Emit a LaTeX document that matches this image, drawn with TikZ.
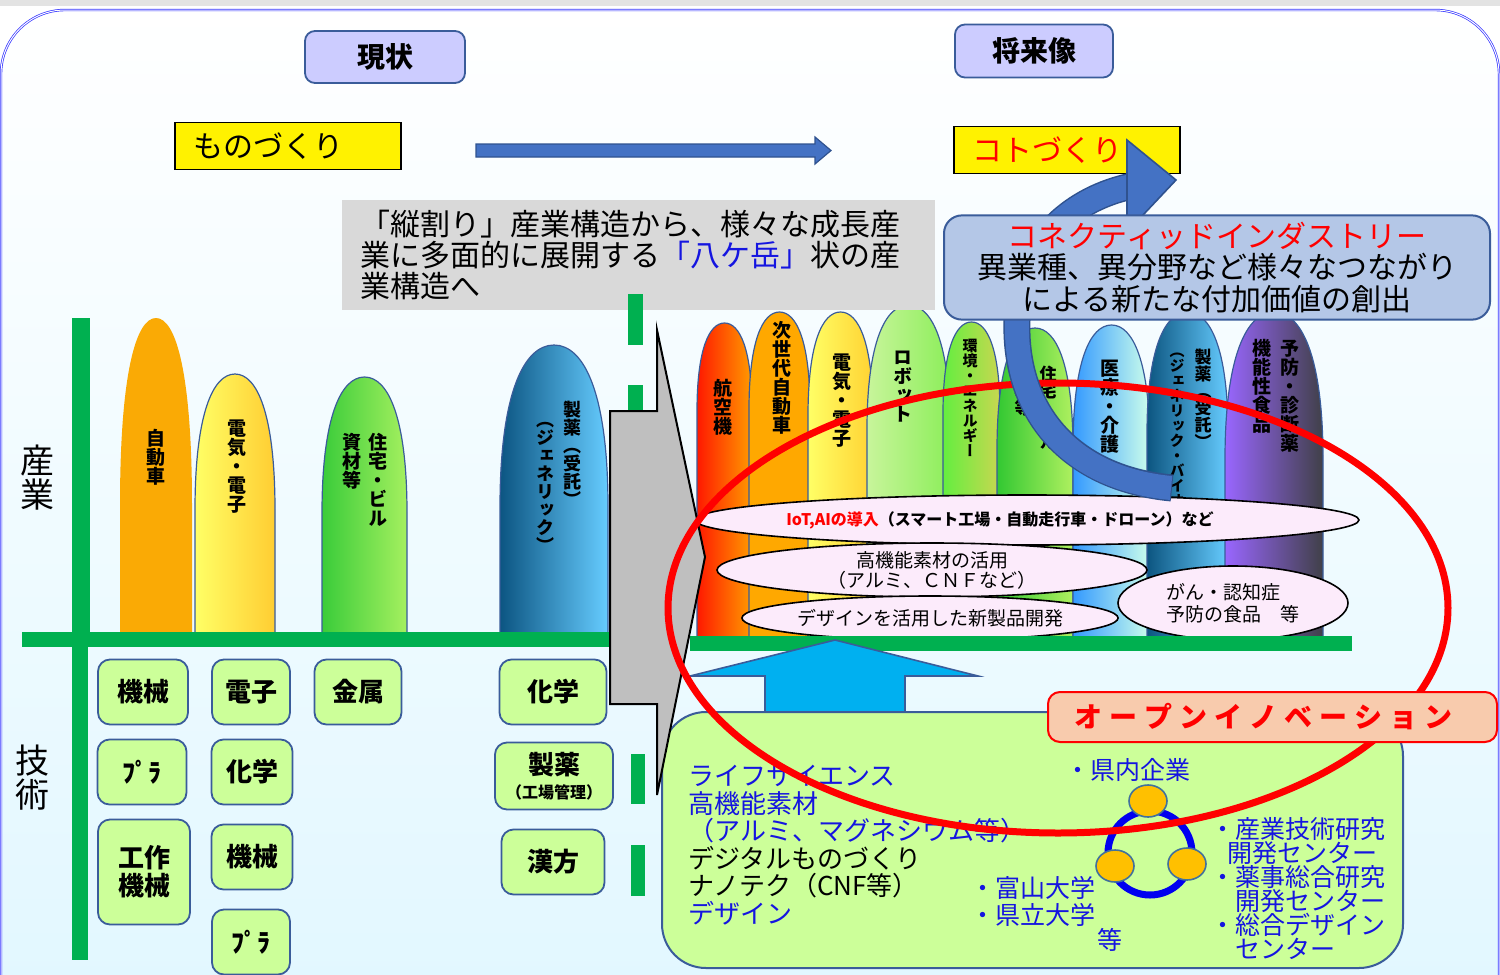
\documentclass[tikz,border=0pt]{standalone}
\usepackage{fontspec}
\setmainfont{Noto Sans CJK JP}
\newfontfamily\cjkv[RawFeature=+vert]{Noto Sans CJK JP}
\usetikzlibrary{shapes.geometric}
\definecolor{bordblue}{HTML}{3A5C9A}
\definecolor{techgreen}{HTML}{CCFF99}
\definecolor{hdrfill}{HTML}{CCCCFF}
\definecolor{arrowblue}{HTML}{4472C4}
\definecolor{arrowbord}{HTML}{2F528F}
\definecolor{grayfill}{HTML}{D9D9D9}
\definecolor{connfill}{HTML}{B4C7E7}
\definecolor{pinkfill}{HTML}{FCEBFB}
\definecolor{openfill}{HTML}{F8CBAD}
\definecolor{bgcyan}{HTML}{DDF6FF}
\definecolor{axisgreen}{HTML}{00B050}
\definecolor{chevgray}{HTML}{BFBFBF}
\definecolor{upblue}{HTML}{00B0F0}
\definecolor{textblue}{HTML}{1515E0}
\definecolor{ringblue}{HTML}{0000F0}
\definecolor{dotorange}{HTML}{FFC000}
\definecolor{dotbord}{HTML}{41719C}
\definecolor{frameblue}{HTML}{3333FF}
\definecolor{topgray}{HTML}{E3E3E3}
\definecolor{lavender}{HTML}{D8D8FF}
\definecolor{barbord}{HTML}{3A5C9A}
\definecolor{carorange}{HTML}{FAAA05}
\makeatletter
\newcommand\vtext[1]{\vbox{\offinterlineskip\@tfor\vt@c:=#1\do{\hbox to 1em{\hss\vt@c\hss\vrule height .88em depth .12em width 0pt}}}}
\newcommand\spreadtext[2]{\@tfor\sp@c:=#2\do{\sp@c\hspace{#1}}\unskip}
\makeatother
\newcommand\archshape[6]{%
  \pgfmathsetmacro\archM{(#2+#3)/2}%
  \pgfmathsetmacro\archW{#3-#2}%
  \pgfmathsetmacro\archH{#6*\archW}%
  \pgfmathsetmacro\archS{#4+\archH}%
  \pgfmathsetmacro\archC{#4+0.3*\archH}%
  \pgfmathsetmacro\archL{\archM-0.28*\archW}%
  \pgfmathsetmacro\archR{\archM+0.28*\archW}%
  \path[#1] (#2,#5) -- (#2,\archS) .. controls (#2,\archC) and (\archL,#4) .. (\archM,#4) .. controls (\archR,#4) and (#3,\archC) .. (#3,\archS) -- (#3,#5) -- cycle;
}
\begin{document}
\lineskiplimit=-20pt
\begin{tikzpicture}[x=0.5pt,y=-0.5pt,
  techbox/.style={draw=bordblue, line width=0.9pt, fill=techgreen, rounded corners=6pt, font=\bfseries\fontsize{13}{14}\selectfont, inner sep=0pt, align=center},
  hdrbox/.style={draw=bordblue, line width=0.9pt, fill=hdrfill, rounded corners=5pt, font=\bfseries\fontsize{14}{15}\selectfont, minimum width=80pt, minimum height=26pt},
  ybox/.style={draw=black, line width=0.7pt, fill=yellow, minimum width=113pt, minimum height=23.5pt, text width=95pt, align=left, inner xsep=9pt, font=\fontsize{15}{16}\selectfont},
  vlab/.style={inner sep=0pt, anchor=north, font=\cjkv\bfseries\fontsize{9.5}{10}\selectfont},
  vsmall/.style={inner sep=0pt, anchor=north, font=\cjkv\bfseries\fontsize{7.5}{8}\selectfont},
  vbig/.style={inner sep=0pt, anchor=north, font=\cjkv\fontsize{17}{17}\selectfont},
  pinkell/.style={ellipse, draw=black, line width=0.8pt, fill=pinkfill, inner sep=0pt, align=center},
  bartop/.style={draw=barbord, line width=0.6pt},
  btext/.style={inner sep=0pt, text=textblue, font=\fontsize{12.5}{12}\selectfont, align=left}
]
\useasboundingbox (0,0) rectangle (1500,975);
% background
\fill[white] (0,0) rectangle (1500,975);
\fill[topgray] (0,0) rectangle (1500,6);
\shade[top color=white, bottom color=bgcyan, rounded corners=32pt] (0,1150) -- (0,10) -- (1500,10) -- (1500,1150) -- cycle;
\fill[lavender] (0,80) rectangle (2,975);
\draw[frameblue, line width=0.35pt, double=white, double distance=0.5pt, rounded corners=32pt] (1,1150) -- (1,10) -- (1499,10) -- (1499,1150);

% headers
\node[hdrbox] (now) at (385,57) {現状};
\node[hdrbox, minimum width=79pt, minimum height=26.5pt] (future) at (1034,51) {将来像};
\node[ybox] (mono) at (288,146) {ものづくり};
\node[ybox, text=red] (koto) at (1067,150) {コトづくり};
\draw[arrowbord, fill=arrowblue, line width=0.6pt] (476,144) -- (815,144) -- (815,137) -- (831,150.5) -- (815,164) -- (815,157) -- (476,157) -- cycle;

% left bars
\archshape{fill=carorange}{120}{192}{318}{640}{2.6}
\archshape{bartop, left color=yellow!60, middle color=yellow!60, right color={rgb,255:red,255;green,205;blue,50}}{195}{275}{374}{640}{1.7}
\archshape{bartop, left color={rgb,255:red,58;green,204;blue,58}, middle color={rgb,255:red,58;green,204;blue,58}, right color={rgb,255:red,165;green,240;blue,95}}{322}{407}{377}{640}{1.6}
\archshape{bartop, left color={rgb,255:red,12;green,85;blue,130}, right color={rgb,255:red,102;green,204;blue,255}}{500}{608}{345}{640}{1.5}
\node[vlab] (l1) at (156,428) {\vtext{自動車}};
\node[vlab] (l2) at (237,418) {\vtext{電気・電子}};
\node[vlab] (l3a) at (378,432) {\vtext{住宅・ビル}};
\node[vlab] (l3b) at (352,432) {\vtext{資材等}};
\node[vlab, font=\cjkv\bfseries\fontsize{9}{9}\selectfont] (l4a) at (572,400) {\vtext{製薬（受託）}};
\node[vlab, font=\cjkv\bfseries\fontsize{9}{9}\selectfont] (l4b) at (545,410) {\vtext{（ジェネリック）}};

% right bars
\archshape{bartop, left color={rgb,255:red,255;green,25;blue,0}, right color={rgb,255:red,255;green,155;blue,0}}{697}{752}{323}{640}{1.6}
\archshape{bartop, left color={rgb,255:red,255;green,168;blue,0}, middle color={rgb,255:red,255;green,190;blue,20}, right color={rgb,255:red,255;green,168;blue,0}}{749}{810}{312}{640}{1.6}
\archshape{bartop, left color=yellow!60, middle color=yellow!60, right color={rgb,255:red,255;green,210;blue,50}}{808}{873}{312}{640}{1.6}
\archshape{bartop, left color={rgb,255:red,200;green,245;blue,155}, right color={rgb,255:red,140;green,238;blue,90}}{867}{950}{305}{640}{1.5}
\archshape{bartop, left color={rgb,255:red,100;green,238;blue,64}, right color={rgb,255:red,200;green,215;blue,80}}{943}{1000}{322}{640}{1.6}
\archshape{bartop, left color={rgb,255:red,50;green,200;blue,50}, middle color={rgb,255:red,55;green,205;blue,55}, right color={rgb,255:red,175;green,240;blue,95}}{997}{1073}{328}{640}{1.6}
\archshape{bartop, left color={rgb,255:red,51;green,153;blue,255}, right color={rgb,255:red,205;green,255;blue,235}}{1073}{1150}{325}{640}{1.6}
\archshape{bartop, left color={rgb,255:red,12;green,85;blue,128}, right color={rgb,255:red,102;green,204;blue,255}}{1147}{1228}{312}{640}{1.5}
\archshape{bartop, left color={rgb,255:red,153;green,102;blue,255}, right color={rgb,255:red,64;green,64;blue,72}}{1225}{1323}{312}{640}{1.5}
\node[vlab] (r1) at (723,378) {\vtext{航空機}};
\node[vlab] (r2) at (782,320) {\vtext{次世代自動車}};
\node[vlab] (r3) at (842,352) {\vtext{電気・電子}};
\node[vlab] (r4) at (903,347) {\vtext{ロボット}};
\node[vsmall] (r5) at (970,338) {\vtext{環境・エネルギー}};
\node[vlab, font=\cjkv\bfseries\fontsize{8.5}{9}\selectfont] (r6a) at (1048,365) {\vtext{住宅・ビル}};
\node[vlab, font=\cjkv\bfseries\fontsize{8.5}{9}\selectfont] (r6b) at (1023,365) {\vtext{資材等}};
\node[vlab] (r7) at (1110,358) {\vtext{医療・介護}};
\node[vlab, font=\cjkv\bfseries\fontsize{8.5}{9}\selectfont] (r8a) at (1203,348) {\vtext{製薬（受託）}};
\node[vlab, font=\cjkv\bfseries\fontsize{7.5}{8}\selectfont] (r8b) at (1177,343) {\vtext{（ジェネリック・バイオ}};
\node[vlab] (r9a) at (1290,338) {\vtext{予防・診断薬}};
\node[vlab] (r9b) at (1262,338) {\vtext{機能性食品}};

% grey text box
\node[fill=grayfill, text width=278.5pt, inner xsep=9pt, inner ysep=0pt, minimum height=55pt, align=left, font=\fontsize{15}{15.5}\selectfont] (gbox) at (638.5,255) {「縦割り」産業構造から、様々な成長産\\業に多面的に展開する{\color{textblue}「八ケ岳」}状の産\\業構造へ};

% axes
\fill[axisgreen] (72,318) rectangle (90,640);
\fill[axisgreen] (22,632) rectangle (615,647);
\fill[axisgreen] (72,647) rectangle (88,960);
\fill[axisgreen] (628,294) rectangle (643,345);
\fill[axisgreen] (628,385) rectangle (643,415);
\fill[axisgreen] (631,754) rectangle (645,804);
\fill[axisgreen] (631,845) rectangle (645,896);
\node[vbig] (sangyo) at (37,443) {\vtext{産業}};
\node[vbig] (gijutsu) at (33,743) {\vtext{技術}};

% ellipses
\node[pinkell, minimum width=332pt, minimum height=25pt] (iot) at (1027,520) {};
\node[inner sep=0pt, font=\bfseries\fontsize{8}{9}\selectfont] (iottext) at (1000,520) {{\color{red}IoT,AIの導入}（スマート工場・自動走行車・ドローン）など};
\node[pinkell, minimum width=215pt, minimum height=27pt, font=\fontsize{9.5}{10}\selectfont] (mat) at (932,570) {高機能素材の活用\\（アルミ、ＣＮＦなど）};
\node[pinkell, minimum width=175pt, minimum height=22pt, font=\fontsize{9.5}{10}\selectfont] (des) at (930,618) {デザインを活用した新製品開発};
\node[pinkell, minimum width=115pt, minimum height=37pt, font=\fontsize{9.5}{11}\selectfont, align=left] (gan) at (1233,603) {がん・認知症\\予防の食品　等};
\fill[axisgreen] (690,636) rectangle (1352,651);

% technology boxes
\node[techbox, minimum width=45pt, minimum height=32.5pt] (t1) at (143,692) {機械};
\node[techbox, minimum width=39pt, minimum height=32.5pt] (t2) at (251,692) {電子};
\node[techbox, minimum width=43.5pt, minimum height=32.5pt] (t3) at (358,692) {金属};
\node[techbox, minimum width=53.5pt, minimum height=32.5pt] (t4) at (553,692) {化学};
\node[techbox, minimum width=44.5pt, minimum height=32.5pt] (t5) at (142,772) {ﾌﾟﾗ};
\node[techbox, minimum width=40.5pt, minimum height=32.5pt] (t6) at (252,772) {化学};
\node[techbox, minimum width=59pt, minimum height=33.5pt] (t7) at (554,776) {製薬\\[-2pt]{\fontsize{8}{9}\selectfont（工場管理）}};
\node[techbox, minimum width=46pt, minimum height=52.5pt] (t8) at (144,872) {工作\\機械};
\node[techbox, minimum width=40.5pt, minimum height=32.5pt] (t9) at (252,857) {機械};
\node[techbox, minimum width=51.5pt, minimum height=32.5pt] (t10) at (553,862) {漢方};
\node[techbox, minimum width=39pt, minimum height=32.5pt] (t11) at (251,942) {ﾌﾟﾗ};

% up arrow and lab box
\draw[bordblue, fill=upblue, line width=0.8pt] (765,720) -- (765,676) -- (690,676) -- (835,640) -- (978,676) -- (905,676) -- (905,720);
\node[draw=bordblue, line width=1pt, fill=techgreen, rounded corners=22pt, minimum width=370.5pt, minimum height=128pt] (lab) at (1032.5,840) {};
\node[anchor=north west, inner sep=0pt, align=left, font=\fontsize{13}{13.75}\selectfont, text=textblue] (fields) at (688,765) {ライフサイエンス\\高機能素材\\（アルミ、マグネシウム等）\\{\color{black}デジタルものづくり}\\{\color{black}ナノテク（CNF等）}\\デザイン};
\node[btext, anchor=west] (kennai) at (1065,770) {・県内企業};
\node[btext, anchor=north west, font=\fontsize{12.5}{13.5}\selectfont] (univ) at (970,876) {・富山大学\\・県立大学};
\node[btext] (etc) at (1110,940) {等};
\node[btext, anchor=north west] (centers) at (1210,817) {・産業技術研究\\\hspace*{0.7em}開発センター\\・薬事総合研究\\\hspace*{1em}開発センター\\・総合デザイン\\\hspace*{1em}センター};
\node[circle, draw=ringblue, line width=3.5pt, minimum size=42pt, inner sep=0pt] (ring) at (1150,853) {};
\node[ellipse, draw=dotbord, fill=dotorange, line width=0.8pt, minimum width=19pt, minimum height=16pt, inner sep=0pt] (d1) at (1148,801) {};
\node[ellipse, draw=dotbord, fill=dotorange, line width=0.8pt, minimum width=19pt, minimum height=16pt, inner sep=0pt] (d2) at (1115,866) {};
\node[ellipse, draw=dotbord, fill=dotorange, line width=0.8pt, minimum width=19pt, minimum height=16pt, inner sep=0pt] (d3) at (1187,864) {};

% chevron
\draw[black, line width=1pt, fill=chevgray] (610,411) -- (657,411) -- (657,330) -- (705,557) -- (657,795) -- (657,704) -- (610,704) -- cycle;

% red ellipse
\draw[red, line width=3.5pt] (1058,608) ellipse [x radius=390, y radius=225];

% curved arrow
\draw[arrowbord, line width=13.5pt] (1172,488) .. controls (1065,478) and (1008,405) .. (1018,305) .. controls (1026,238) and (1075,198) .. (1132,186);
\draw[arrowblue, line width=12pt] (1171,488) .. controls (1065,478) and (1008,405) .. (1018,305) .. controls (1026,238) and (1075,198) .. (1132,186);
\draw[arrowbord, fill=arrowblue, line width=0.8pt] (1127,140) -- (1176,180) -- (1127,232) -- cycle;

% connected industry box
\node[draw=bordblue, line width=1pt, fill=connfill, rounded corners=9pt, minimum width=273pt, minimum height=50.5pt, align=center, font=\fontsize{15}{15.75}\selectfont] (conn) at (1217,267.5) {{\color{red}コネクティッドインダストリー}\\異業種、異分野など様々なつながり\\による新たな付加価値の創出};

% open innovation
\node[draw=red, line width=1pt, fill=openfill, rounded corners=6pt, minimum width=224.5pt, minimum height=25pt, text=red, font=\bfseries\fontsize{14}{15}\selectfont] (open) at (1272.5,717) {\spreadtext{3.5pt}{オープンイノベーション}\hspace*{9pt}};
\end{tikzpicture}
\end{document}
